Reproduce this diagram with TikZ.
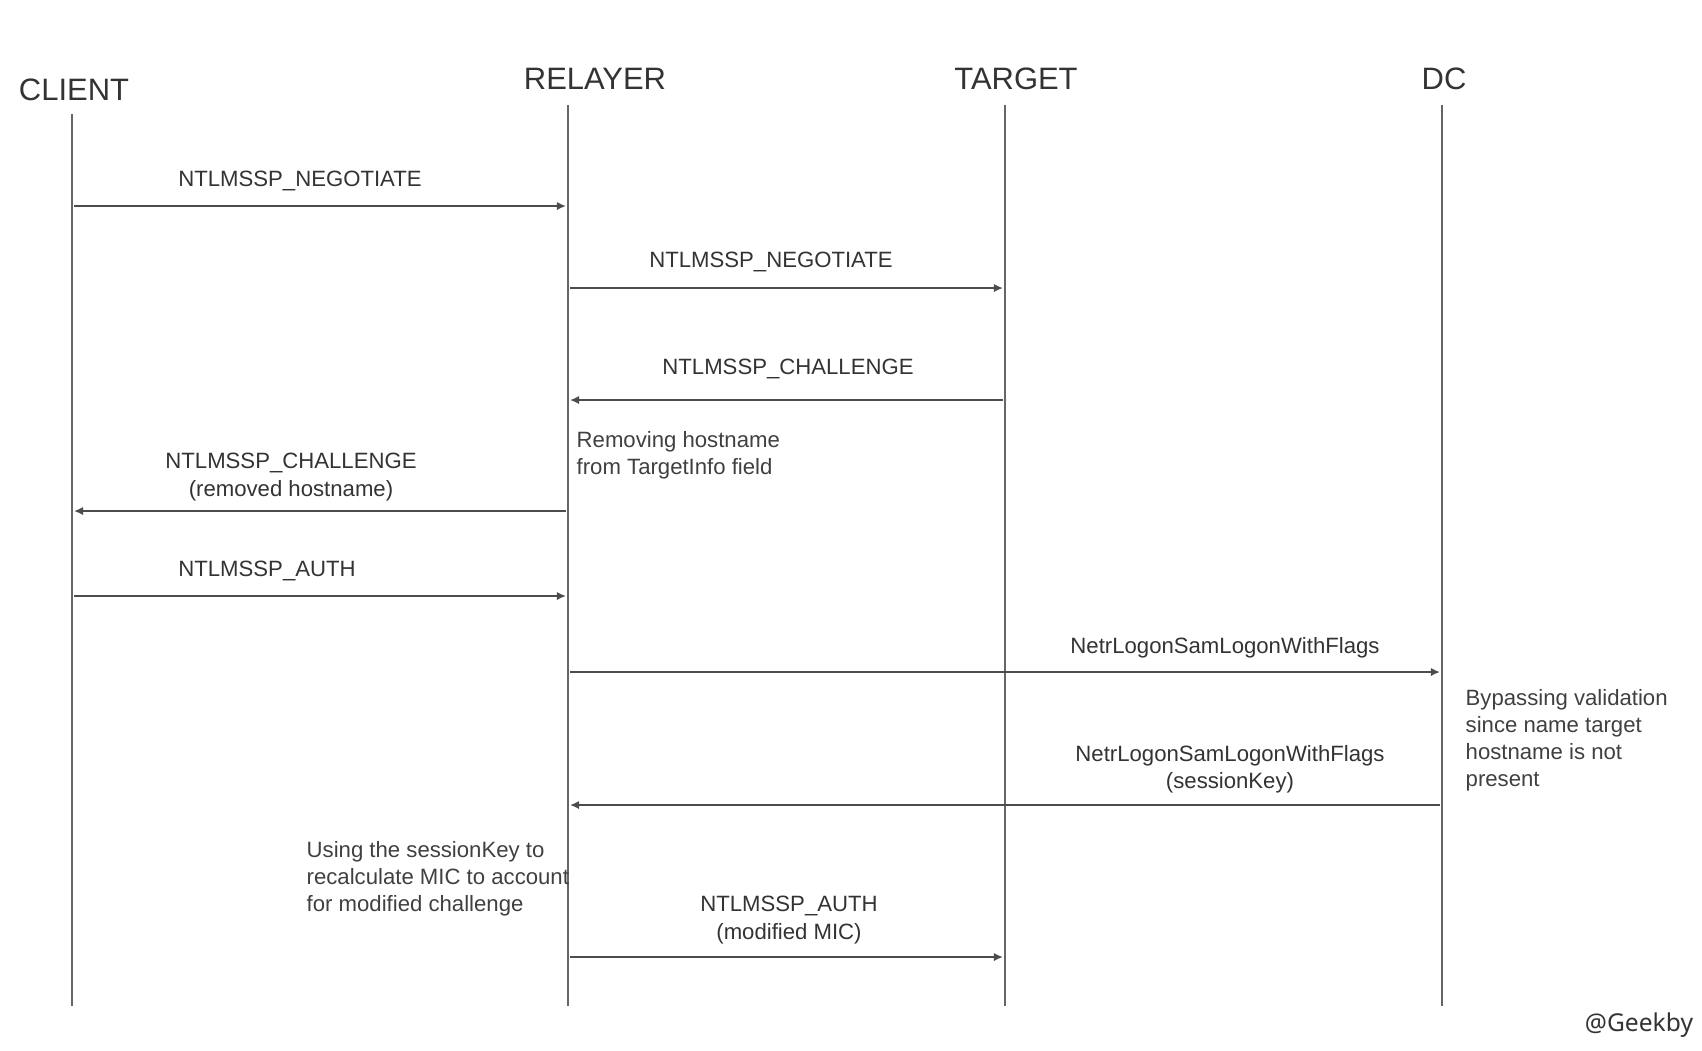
\documentclass[tikz,border=0pt]{standalone}
\usepackage{fontspec}
\setmainfont{Liberation Sans}
\newfontfamily\markfont{Noto Sans}
\usetikzlibrary{arrows.meta}

\begin{document}
\begin{tikzpicture}[x=0.01cm,y=-0.01cm,
	actor/.style={text=black!80,font=\fontsize{8.8}{10}\selectfont,inner sep=0pt},
	life/.style={draw=black!60,line width=0.5pt},
	msg/.style={draw=black!70,line width=0.5pt,shorten <=0.02cm,shorten >=0.02cm,
		-{Latex[length=2.6pt,width=2.4pt]}},
	msglabel/.style={text=black!80,font=\fontsize{6.3}{7.8}\selectfont,align=center,inner sep=0pt},
	note/.style={text=black!75,font=\fontsize{6.3}{7.7}\selectfont,align=left,anchor=west,inner sep=0pt}]
			\useasboundingbox (0,0) rectangle (1702,1050);
			% actors
			\node[actor] (client) at (74,90) {CLIENT};
			\node[actor] (relayer) at (595,79) {RELAYER};
			\node[actor] (target) at (1016,79) {TARGET};
			\node[actor] (dc) at (1444,79) {DC};
			% lifelines
			\coordinate (client-top) at (72,114);
			\coordinate (client-end) at (72,1006);
			\coordinate (relayer-top) at (568,105);
			\coordinate (relayer-end) at (568,1006);
			\coordinate (target-top) at (1005,105);
			\coordinate (target-end) at (1005,1006);
			\coordinate (dc-top) at (1442,105);
			\coordinate (dc-end) at (1442,1006);
			\draw[life] (client-top) -- (client-end);
			\draw[life] (relayer-top) -- (relayer-end);
			\draw[life] (target-top) -- (target-end);
			\draw[life] (dc-top) -- (dc-end);
			% messages
			\coordinate (c1) at (72,206);
			\coordinate (r1) at (568,206);
			\draw[msg] (c1) -- (r1);
			\node[msglabel] (l1) at (300,181) {NTLMSSP\_NEGOTIATE};
			\coordinate (r2) at (568,288);
			\coordinate (t2) at (1005,288);
			\draw[msg] (r2) -- (t2);
			\node[msglabel] (l2) at (771,262) {NTLMSSP\_NEGOTIATE};
			\coordinate (t3) at (1005,400);
			\coordinate (r3) at (568,400);
			\draw[msg] (t3) -- (r3);
			\node[msglabel] (l3) at (788,369) {NTLMSSP\_CHALLENGE};
			\node[note] (n1) at (576,455) {Removing hostname\\from TargetInfo field};
			\coordinate (r4) at (568,511);
			\coordinate (c4) at (72,511);
			\draw[msg] (r4) -- (c4);
			\node[msglabel] (l4) at (291,477) {NTLMSSP\_CHALLENGE\\(removed hostname)};
			\coordinate (c5) at (72,596);
			\coordinate (r5) at (568,596);
			\draw[msg] (c5) -- (r5);
			\node[msglabel] (l5) at (267,571) {NTLMSSP\_AUTH};
			\coordinate (r6) at (568,672);
			\coordinate (d6) at (1442,672);
			\draw[msg] (r6) -- (d6);
			\node[msglabel] (l6) at (1225,648) {NetrLogonSamLogonWithFlags};
			\node[note] (n2) at (1465,740) {Bypassing validation\\since name target\\hostname is not\\present};
			\coordinate (d7) at (1442,805);
			\coordinate (r7) at (568,805);
			\draw[msg] (d7) -- (r7);
			\node[msglabel] (l7) at (1230,769) {NetrLogonSamLogonWithFlags\\(sessionKey)};
			\node[note] (n3) at (306,879) {Using the sessionKey to\\recalculate MIC to account\\for modified challenge};
			\coordinate (r8) at (568,957);
			\coordinate (t8) at (1005,957);
			\draw[msg] (r8) -- (t8);
			\node[msglabel] (l8) at (789,920) {NTLMSSP\_AUTH\\(modified MIC)};
			% watermark
			\node[text=black!80,font=\markfont\fontsize{7}{9}\selectfont,inner sep=0pt] (mark) at (1639,1025) {@Geekby};
\end{tikzpicture}
\end{document}
